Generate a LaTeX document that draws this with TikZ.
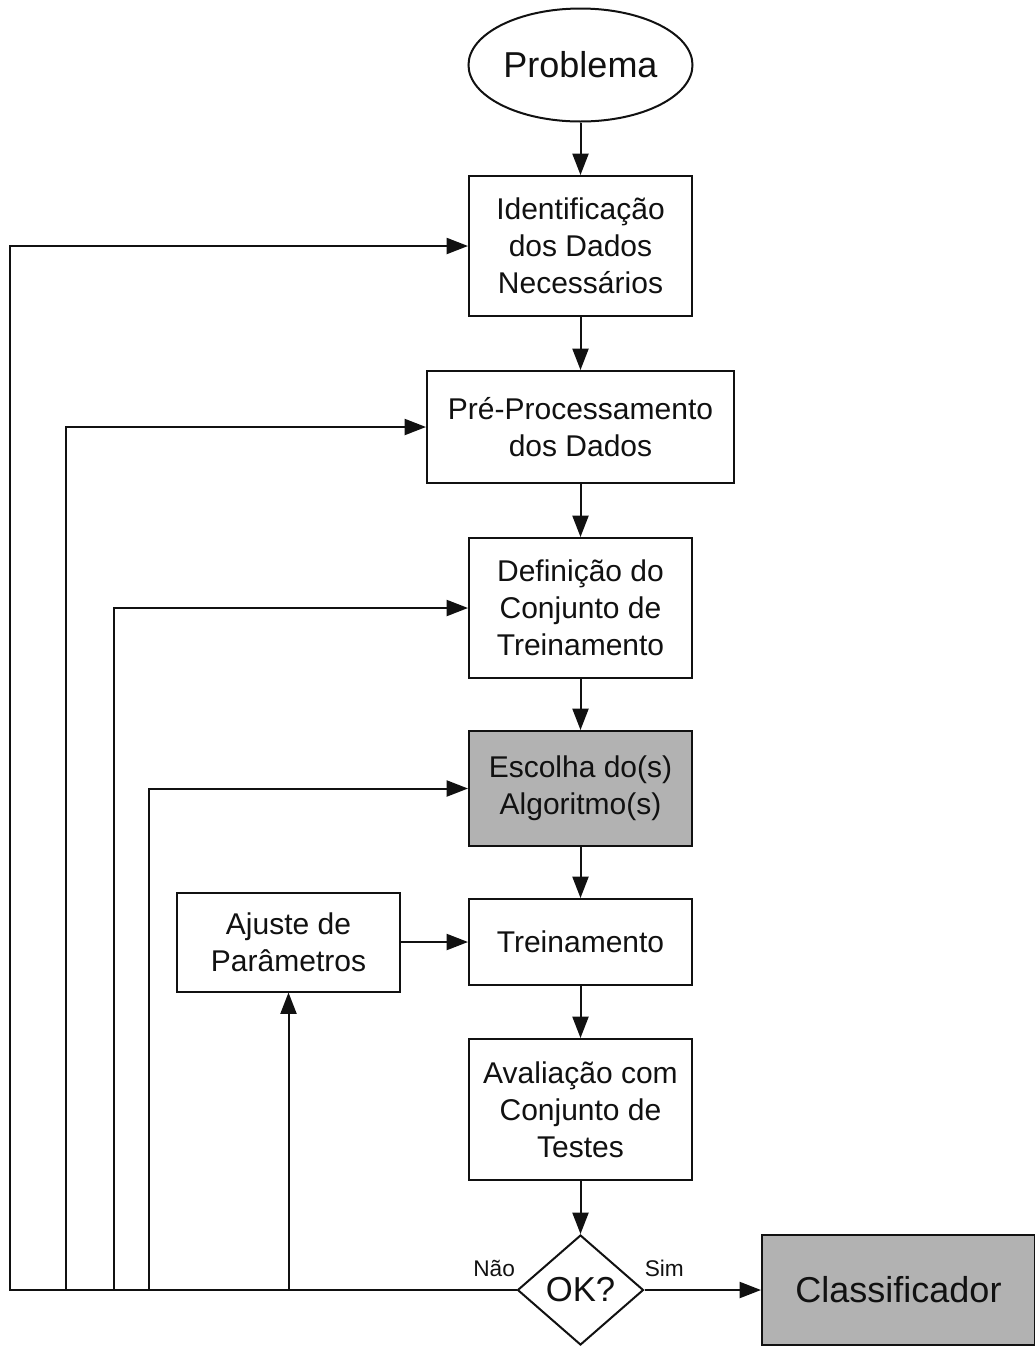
\documentclass[tikz,border=0pt]{standalone}
\usepackage{fontspec}
\setmainfont{Liberation Sans}
\usepackage{tikz}
\usetikzlibrary{arrows.meta,positioning,shapes.geometric}
\definecolor{fcLine}{HTML}{111111}
\definecolor{fcGray}{HTML}{B2B2B2}
\newcommand{\boxfont}{\fontsize{22.5}{27.75}\selectfont}

\begin{document}
\begin{tikzpicture}[
    x=0.75pt, y=-0.75pt, >={Triangle[length=16pt,width=12pt]},
    every node/.style={text=fcLine},
    stepbox/.style={rectangle, draw=fcLine, line width=1.5pt, fill=white, minimum width=167.25pt, inner sep=0pt, align=center, font=\boxfont},
    grayfill/.style={fill=fcGray},
    startnode/.style={ellipse, draw=fcLine, line width=1.5pt, minimum width=168pt, minimum height=84.75pt, inner sep=0pt, font=\fontsize{27}{32}\selectfont},
    decision/.style={diamond, draw=fcLine, line width=1.5pt, fill=white, minimum width=94.5pt, minimum height=82.5pt, inner sep=0pt, font=\fontsize{26}{30}\selectfont},
    lab/.style={font=\fontsize{17}{20}\selectfont, inner sep=0pt},
    flow/.style={->, draw=fcLine, line width=1.5pt},
  ]
  \useasboundingbox (0,0) rectangle (1035,1347);
  \node[startnode] (prob) at (580.5,65) {Problema};
  \node[stepbox, minimum height=105pt] (ident) at (580.5,246) {Identificação\\dos Dados\\Necessários};
  \node[stepbox, minimum width=230.25pt, minimum height=84pt] (prep) at (580.5,427) {Pré-Processamento\\dos Dados};
  \node[stepbox, minimum height=105pt] (defin) at (580.5,608) {Definição do\\Conjunto de\\Treinamento};
  \node[stepbox, grayfill, minimum height=86.25pt] (escolha) at (580.5,788.5) {Escolha do(s)\\Algoritmo(s)};
  \node[stepbox, minimum height=64.5pt] (trein) at (580.5,942) {Treinamento};
  \node[stepbox, minimum height=74.25pt] (ajuste) at (288.5,942) {Ajuste de\\Parâmetros};
  \node[stepbox, minimum height=105.75pt] (aval) at (580.5,1109.5) {Avaliação com\\Conjunto de\\Testes};
  \node[decision] (ok) at (580.5,1290) {OK?};
  \node[stepbox, grayfill, minimum width=204.75pt, minimum height=82.5pt, font=\fontsize{27}{32}\selectfont] (classif) at (898.5,1290) {Classificador};
  \node[lab, above left=10pt and 1pt of ok.west] (nao) {Não};
  \node[lab, above right=10pt and 0pt of ok.east] (sim) {Sim};

  % main column
  \draw[flow] (prob) -- (ident);
  \draw[flow] (ident) -- (prep);
  \draw[flow] (prep) -- (defin);
  \draw[flow] (defin) -- (escolha);
  \draw[flow] (escolha) -- (trein);
  \draw[flow] (trein) -- (aval);
  \draw[flow] (aval) -- (ok);
  \draw[flow] (ok) -- (classif);
  \draw[flow] (ajuste) -- (trein);

  % feedback loops
  \coordinate (back1) at (10,1290);
  \coordinate (back2) at (66,1290);
  \coordinate (back3) at (114,1290);
  \coordinate (back4) at (149,1290);
  \coordinate (back5) at (ajuste.south |- ok.west);
  \draw[flow, line join=miter] (ok.west) -- (back1) |- (ident.west);
  \draw[flow] (back2) |- (prep.west);
  \draw[flow] (back3) |- (defin.west);
  \draw[flow] (back4) |- (escolha.west);
  \draw[flow] (back5) -- (ajuste.south);
\end{tikzpicture}
\end{document}
